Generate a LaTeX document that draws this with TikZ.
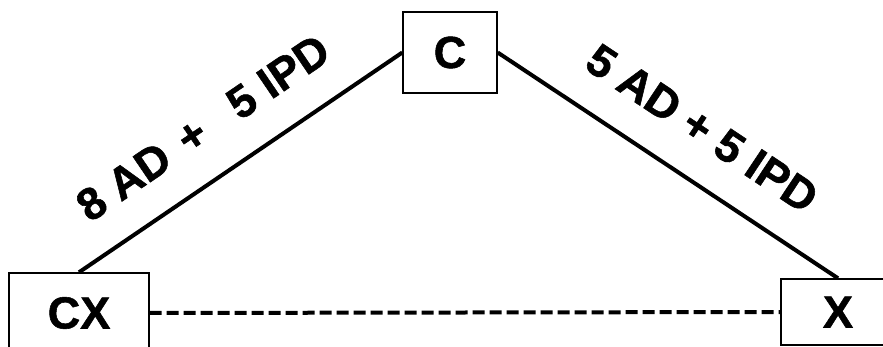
\documentclass[tikz,border=0pt]{standalone}
\usepackage{fontspec}
\setmainfont{Liberation Sans}[BoldFeatures={FakeBold=1.2}]
\usetikzlibrary{positioning}

\begin{document}
\begin{tikzpicture}[x=1pt,y=-1pt,font=\fontsize{45}{50}\selectfont\bfseries]
  \tikzstyle{box}=[draw=black,line width=1.4pt,fill=white,inner sep=0pt]
  \tikzstyle{link}=[draw=black,line width=4pt]
  \tikzstyle{cost}=[font=\fontsize{45}{50}\selectfont\bfseries,sloped,above=32pt,inner sep=0pt]

  \useasboundingbox (0,0) rectangle (883,347);
  \clip (0,0) rectangle (883,347);

  \node[box,minimum width=94pt,minimum height=81pt]  (C)  at (450,52.5) {C};
  \node[box,minimum width=140pt,minimum height=80pt] (CX) at (79,313)   {CX};
  \node[box,minimum width=114pt,minimum height=66pt] (X)  at (838,312)  {X};

  \path
  (CX.north) edge [link] node[cost,pos=0.47] {8 AD\hspace{0.12em} + \hspace{0.5em}5 IPD} (C.west)
  (C.east)   edge [link] node[cost,pos=0.52] {5 AD + 5 IPD} (X.north)
  (CX.east)  edge [link,dash pattern=on 12pt off 5pt] (X.west);
\end{tikzpicture}
\end{document}
